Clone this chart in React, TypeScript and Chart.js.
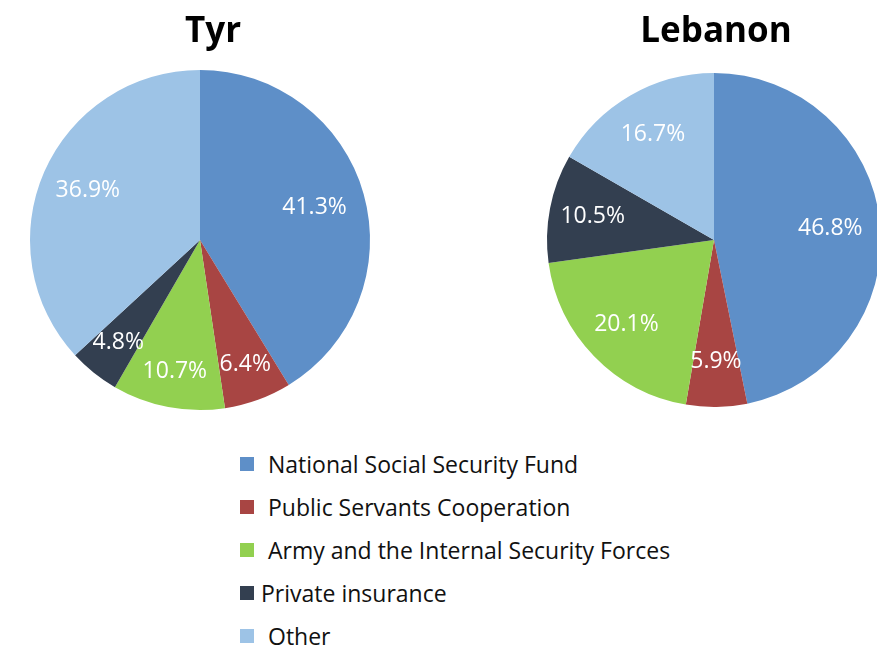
import React, { useEffect, useRef } from "react";
import { Chart, registerables } from "chart.js";

Chart.register(...registerables);

const categories = [
  "National Social Security Fund",
  "Public Servants Cooperation",
  "Army and the Internal Security Forces",
  "Private insurance",
  "Other",
];
const tyrValues = [41.3, 6.4, 10.7, 4.8, 36.9];
const lebanonValues = [46.8, 5.9, 20.1, 10.5, 16.7];
const chartTitles = ["Tyr", "Lebanon"];

const colors = ["#5E8FC8", "#A84543", "#92D050", "#333F50", "#9DC3E6"];
const FONT = "'Open Sans', 'Noto Sans', sans-serif";

const labelPlugin = {
  id: "sliceLabels",
  afterDatasetsDraw(chart: any) {
    const ctx = chart.ctx;
    const meta = chart.getDatasetMeta(0);
    const data = chart.data.datasets[0].data as number[];
    const factors = (chart.options.plugins as any).sliceLabels?.factors || [];
    ctx.save();
    ctx.fillStyle = "#ffffff";
    ctx.font = `23px ${FONT}`;
    ctx.textAlign = "center";
    ctx.textBaseline = "middle";
    meta.data.forEach((arc: any, i: number) => {
      const mid = (arc.startAngle + arc.endAngle) / 2;
      const r = arc.outerRadius * (factors[i] ?? 0.72);
      const x = arc.x + Math.cos(mid) * r;
      const y = arc.y + Math.sin(mid) * r;
      ctx.fillText(data[i].toFixed(1) + "%", x, y);
    });
    ctx.restore();
  },
};

function PieCanvas(props: {
  values: number[];
  width: number;
  height: number;
  radius: number;
  padding: { left: number; right: number; top: number; bottom: number };
  factors: number[];
  style: React.CSSProperties;
}) {
  const ref = useRef<HTMLCanvasElement | null>(null);
  useEffect(() => {
    if (!ref.current) return;
    const chart = new Chart(ref.current, {
      type: "pie",
      data: {
        labels: categories,
        datasets: [
          {
            data: props.values,
            backgroundColor: colors,
            borderWidth: 0,
            radius: props.radius,
          } as any,
        ],
      },
      options: {
        responsive: false,
        animation: false,
        layout: { padding: props.padding },
        plugins: {
          legend: { display: false },
          title: { display: false },
          tooltip: { enabled: false },
          sliceLabels: { factors: props.factors },
        } as any,
      },
      plugins: [labelPlugin],
    });
    return () => chart.destroy();
  }, []);
  return (
    <canvas
      ref={ref}
      width={props.width}
      height={props.height}
      style={{ position: "absolute", ...props.style }}
    />
  );
}

export default function App() {
  const titleStyle: React.CSSProperties = {
    position: "absolute",
    top: 0,
    fontFamily: FONT,
    fontWeight: 700,
    fontSize: 35,
    lineHeight: "58px",
    color: "#000",
    textAlign: "center",
    width: 300,
  };
  return (
    <div
      style={{
        position: "absolute",
        left: 0,
        top: 0,
        width: 877,
        height: 648,
        overflow: "hidden",
        background: "#fff",
      }}
    >
      <PieCanvas
        values={tyrValues}
        width={400}
        height={430}
        radius={170}
        padding={{ left: 30, right: 30, top: 70, bottom: 20 }}
        factors={[0.7, 0.78, 0.79, 0.77, 0.72]}
        style={{ left: 0, top: 0 }}
      />
      <PieCanvas
        values={lebanonValues}
        width={480}
        height={430}
        radius={167}
        padding={{ left: 73, right: 73, top: 73, bottom: 23 }}
        factors={[0.7, 0.73, 0.73, 0.74, 0.73]}
        style={{ left: 474, top: 0 }}
      />
      <div style={{ ...titleStyle, left: 213 - 150 }}>{chartTitles[0]}</div>
      <div style={{ ...titleStyle, left: 716 - 150 }}>{chartTitles[1]}</div>
      {categories.map((c, i) => (
        <div
          key={c}
          style={{
            position: "absolute",
            left: 240,
            top: 464 + i * 43 - 15,
            height: 30,
            display: "flex",
            alignItems: "center",
            fontFamily: FONT,
            fontSize: 23,
            color: "#111",
            whiteSpace: "nowrap",
          }}
        >
          <span
            style={{
              display: "inline-block",
              width: 14,
              height: 14,
              background: colors[i],
              marginRight: i === 3 ? 7 : 14,
            }}
          />
          <span>{c}</span>
        </div>
      ))}
    </div>
  );
}
